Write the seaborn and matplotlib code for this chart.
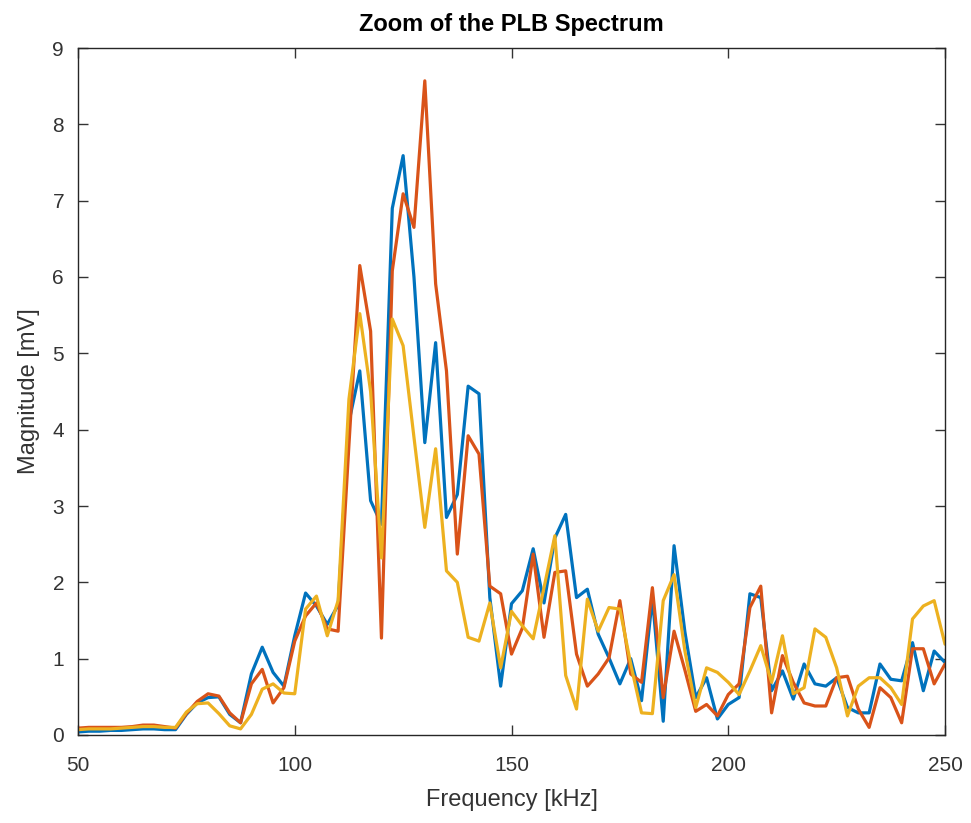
import numpy as np
import pandas as pd
import matplotlib
matplotlib.use("Agg")
import matplotlib.pyplot as plt
import seaborn as sns

# Frequency grid (kHz)
freq_khz = np.arange(50.0, 250.0 + 1e-9, 2.5)

series_1 = [0.04, 0.05, 0.05, 0.06, 0.06, 0.07, 0.08, 0.08, 0.07, 0.07,
            0.27, 0.42, 0.49, 0.50, 0.27, 0.16, 0.80, 1.15, 0.82, 0.64,
            1.30, 1.86, 1.69, 1.45, 1.70, 4.10, 4.77, 3.07, 2.76, 6.90,
            7.59, 6.00, 3.83, 5.14, 2.85, 3.15, 4.57, 4.47, 1.80, 0.64,
            1.72, 1.89, 2.44, 1.73, 2.58, 2.89, 1.80, 1.91, 1.32, 1.01,
            0.67, 1.00, 0.45, 1.80, 0.18, 2.48, 1.35, 0.49, 0.75, 0.21,
            0.40, 0.49, 1.85, 1.80, 0.58, 0.84, 0.47, 0.93, 0.67, 0.64,
            0.75, 0.36, 0.29, 0.29, 0.93, 0.73, 0.71, 1.21, 0.58, 1.10,
            0.95]

series_2 = [0.09, 0.10, 0.10, 0.10, 0.10, 0.11, 0.13, 0.13, 0.11, 0.09,
            0.28, 0.44, 0.54, 0.51, 0.29, 0.16, 0.67, 0.86, 0.42, 0.62,
            1.23, 1.56, 1.73, 1.39, 1.36, 3.80, 6.15, 5.29, 1.27, 6.08,
            7.09, 6.65, 8.57, 5.91, 4.77, 2.37, 3.92, 3.68, 1.95, 1.85,
            1.06, 1.40, 2.37, 1.28, 2.13, 2.15, 1.06, 0.64, 0.80, 1.01,
            1.76, 0.80, 0.69, 1.93, 0.49, 1.36, 0.85, 0.31, 0.40, 0.25,
            0.53, 0.67, 1.67, 1.95, 0.29, 1.04, 0.69, 0.42, 0.38, 0.38,
            0.75, 0.77, 0.34, 0.10, 0.62, 0.49, 0.16, 1.13, 1.13, 0.67,
            0.93]

series_3 = [0.07, 0.08, 0.08, 0.08, 0.09, 0.10, 0.11, 0.11, 0.10, 0.10,
            0.30, 0.41, 0.42, 0.28, 0.12, 0.08, 0.27, 0.60, 0.67, 0.55,
            0.54, 1.65, 1.82, 1.30, 1.76, 4.40, 5.52, 4.50, 2.32, 5.45,
            5.10, 3.90, 2.72, 3.75, 2.15, 2.00, 1.28, 1.23, 1.73, 0.88,
            1.62, 1.43, 1.26, 1.93, 2.61, 0.78, 0.34, 1.78, 1.36, 1.67,
            1.65, 0.93, 0.29, 0.28, 1.76, 2.10, 1.10, 0.36, 0.88, 0.82,
            0.69, 0.53, 0.84, 1.17, 0.69, 1.30, 0.54, 0.62, 1.39, 1.28,
            0.88, 0.25, 0.64, 0.75, 0.75, 0.62, 0.40, 1.52, 1.69, 1.76,
            1.19]

series_names = ["Signal 1", "Signal 2", "Signal 3"]
colors = ["#0072BD", "#D95319", "#EDB120"]

x_ticks = [50, 100, 150, 200, 250]
y_ticks = list(range(0, 10))

df = pd.concat([
    pd.DataFrame({"Frequency": freq_khz, "Magnitude": vals, "Series": name})
    for name, vals in zip(series_names, [series_1, series_2, series_3])
], ignore_index=True)

sns.set_theme(style="white")
plt.rcParams["font.family"] = ["Liberation Sans", "DejaVu Sans"]

fig = plt.figure(figsize=(9.71, 8.23), dpi=100)
ax = fig.add_axes([78 / 971, 1 - 735 / 823, (945 - 78) / 971, (735 - 48) / 823])

sns.lineplot(data=df, x="Frequency", y="Magnitude", hue="Series",
             palette=colors, linewidth=2.3, legend=False, ax=ax,
             estimator=None, sort=False)

ax.set_xlim(50, 250)
ax.set_ylim(0, 9)
ax.set_xticks(x_ticks)
ax.set_yticks(y_ticks)
ax.tick_params(axis="both", which="both", direction="in", length=7, width=1,
               colors="#333333", labelsize=15, top=True, right=True,
               bottom=True, left=True)
ax.tick_params(axis="x", pad=15)
ax.tick_params(axis="y", pad=10)
for sp in ax.spines.values():
    sp.set_visible(True)
    sp.set_color("#262626")
    sp.set_linewidth(1.0)

ax.set_xlabel("Frequency [kHz]", fontsize=17, color="#333333", labelpad=10)
ax.set_ylabel("Magnitude [mV]", fontsize=17, color="#333333", labelpad=9)
ax.set_title("Zoom of the PLB Spectrum", fontsize=17, fontweight="bold",
             color="black", pad=12)

fig.savefig("out.png", dpi=100, facecolor="white")
